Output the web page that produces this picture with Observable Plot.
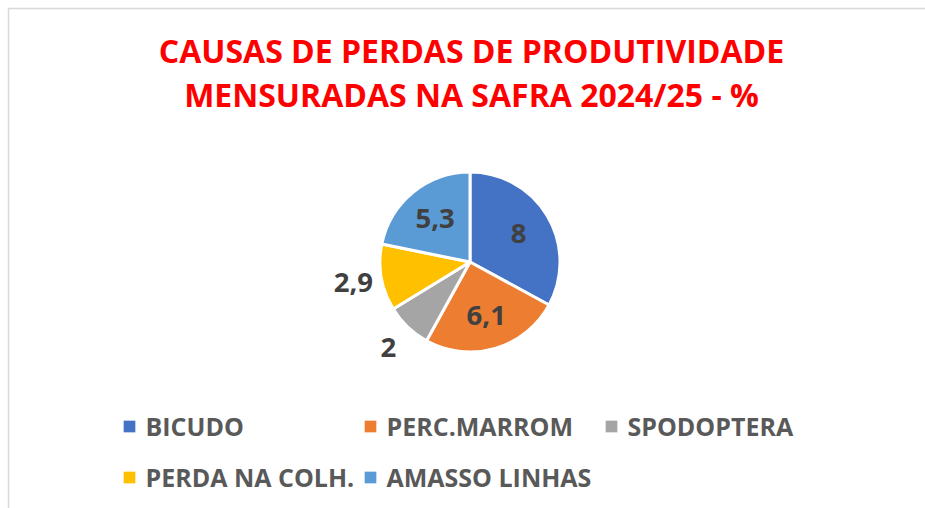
<!DOCTYPE html>
<html><head><meta charset="utf-8">
<script src="https://cdn.jsdelivr.net/npm/d3@7"></script>
<script src="https://cdn.jsdelivr.net/npm/@observablehq/plot@0.6"></script>
<style>html,body{margin:0;padding:0;background:#fff} svg{display:block}</style>
</head><body><div id="chart"></div>
<script>
const categories = ["BICUDO", "PERC.MARROM", "SPODOPTERA", "PERDA NA COLH.", "AMASSO LINHAS"];
const values = [8, 6.1, 2, 2.9, 5.3];
const valueLabels = ["8", "6,1", "2", "2,9", "5,3"];
const labelPlacement = ["inside", "inside", "outside", "outside", "inside"];
const colors = ["#4472C4", "#ED7D31", "#A5A5A5", "#FFC000", "#5B9BD5"];
const titleLines = ["CAUSAS DE PERDAS DE PRODUTIVIDADE", "MENSURADAS NA SAFRA 2024/25 - %"];

const W = 925, H = 508, cx = 470, cy = 262, R = 90;
const FONT = "'Open Sans', sans-serif";

const rows = categories.map((c, i) => ({category: c, value: values[i], label: valueLabels[i], placement: labelPlacement[i], color: colors[i]}));
const arcs = d3.pie().sort(null).value(d => d.value)(rows);
const arcGen = d3.arc().innerRadius(0).outerRadius(R);
const inArc = d3.arc().innerRadius(56).outerRadius(56);
const outArc = d3.arc().innerRadius(119).outerRadius(119);
const labelData = arcs.map(a => {
  const [x, y] = (a.data.placement === "inside" ? inArc : outArc).centroid(a);
  return {...a.data, x: cx + x, y: cy + y};
});

const legendData = rows.map((d, i) => ({...d, x: 129 + (i % 3) * 241, y: 426 + Math.floor(i / 3) * 51}));
const titleData = titleLines.map((t, i) => ({text: t, x: 471, y: 62 + i * 44.5}));

function pieMark() {
  const g = d3.create("svg:g").attr("transform", `translate(${cx},${cy})`);
  g.selectAll("path").data(arcs).join("path")
    .attr("d", arcGen)
    .attr("fill", d => d.data.color)
    .attr("stroke", "#fff")
    .attr("stroke-width", 3)
    .attr("stroke-linejoin", "round");
  return g.node();
}

const chart = Plot.plot({
  width: W, height: H, margin: 0,
  x: {type: "identity", axis: null},
  y: {type: "identity", axis: null},
  style: {background: "#fff", fontFamily: FONT, overflow: "visible"},
  marks: [
    Plot.frame({stroke: "#d9d9d9", strokeWidth: 1.5, insetLeft: 8, insetTop: 8, insetRight: -20, insetBottom: -20}),
    Plot.text(titleData, {x: "x", y: "y", text: "text", fill: "#FF0000", fontSize: 32, fontWeight: "bold", fontFamily: FONT, textAnchor: "middle", lineAnchor: "bottom"}),
    pieMark,
    Plot.text(labelData, {x: "x", y: "y", text: "label", fill: "#404040", fontSize: 27.5, fontWeight: "bold", fontFamily: FONT, textAnchor: "middle", lineAnchor: "middle"}),
    Plot.dot(legendData, {x: "x", y: "y", symbol: "square", r: 6.6, fill: "color", stroke: null}),
    Plot.text(legendData, {x: d => d.x + 16, y: d => d.y + 9, text: "category", fill: "#595959", fontSize: 25, fontWeight: "bold", fontFamily: FONT, textAnchor: "start", lineAnchor: "bottom"})
  ]
});
document.getElementById("chart").appendChild(chart);
</script>
</body></html>
